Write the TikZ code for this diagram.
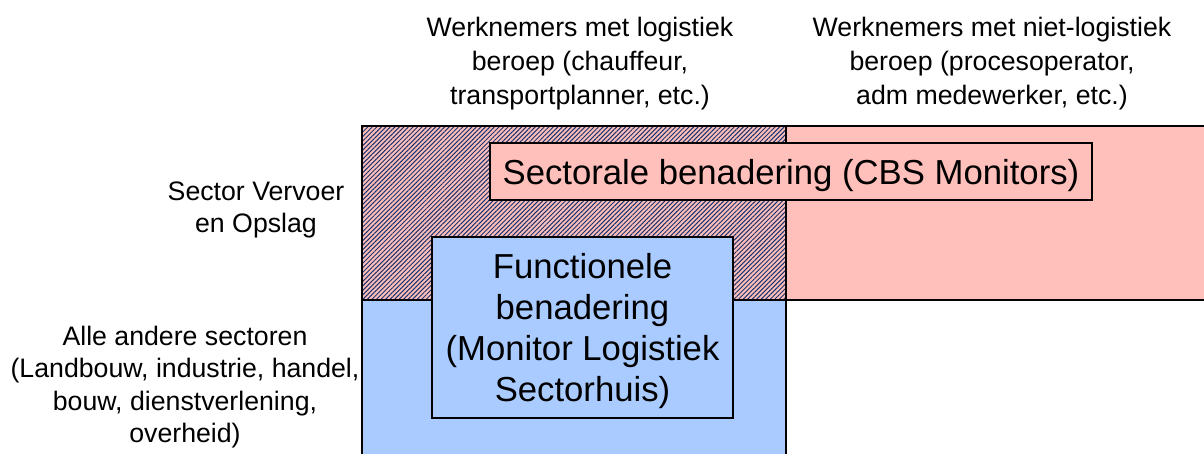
\documentclass[tikz,border=0pt]{standalone}
\usepackage{fontspec}
\setmainfont{Liberation Sans}
\usepackage{tikz}
\usetikzlibrary{patterns.meta}
\definecolor{roze}{RGB}{255,191,186}
\definecolor{lichtblauw}{RGB}{170,203,255}
\definecolor{arcering}{RGB}{25,50,110}
\tikzset{
    vlak/.style={draw=black, line width=1.5pt},
    arcvlak/.style={
        pattern={Lines[angle=45, distance=3.2pt, line width=1pt]},
        pattern color=arcering
    },
    kop/.style={align=center, inner sep=0pt, font=\fontsize{26.7}{32.5}\selectfont},
    bovenkop/.style={kop, font=\fontsize{26.7}{34}\selectfont},
    vak/.style={
        draw=black,
        line width=1.5pt,
        align=center,
        inner sep=0pt,
        font=\fontsize{34.7}{41}\selectfont
    }
}

\begin{document}
\begin{tikzpicture}[x=1pt,y=-1pt]
	\useasboundingbox (0,0) rectangle (1204,454);
	\clip (0,0) rectangle (1204,454);
	% vlakken
	\draw[vlak, fill=roze] (362,126) rectangle (1220,300);
	\draw[vlak, fill=lichtblauw] (362,300) rectangle (786,470);
	\fill[roze] (362,126) rectangle (786,300);
	\fill[arcvlak] (362,126) rectangle (786,300);
	\draw[vlak] (362,126) rectangle (786,300);
	% koppen
	\node[bovenkop] at (580,63.5) (logistiek) {Werknemers met logistiek\\beroep (chauffeur,\\transportplanner, etc.)};
	\node[bovenkop] at (992,63.5) (nietlogistiek) {Werknemers met niet-logistiek\\beroep (procesoperator,\\adm medewerker, etc.)};
	\node[kop] at (256,210) (vervoer) {Sector Vervoer\\en Opslag};
	\node[kop] at (185,387) (andere) {Alle andere sectoren\\(Landbouw, industrie, handel,\\bouw, dienstverlening,\\overheid)};
	% benaderingen
	\node[vak, fill=roze, text height=33pt, text depth=7.5pt, minimum width=602pt, minimum height=57pt] at (791,171.5) (sectoraal) {Sectorale benadering (CBS Monitors)};
	\node[vak, fill=lichtblauw, minimum width=301pt, minimum height=181pt] at (582.5,327.5) (functioneel) {\rule{0pt}{33pt}Functionele\\benadering\\(Monitor Logistiek\\Sectorhuis)};
\end{tikzpicture}
\end{document}
